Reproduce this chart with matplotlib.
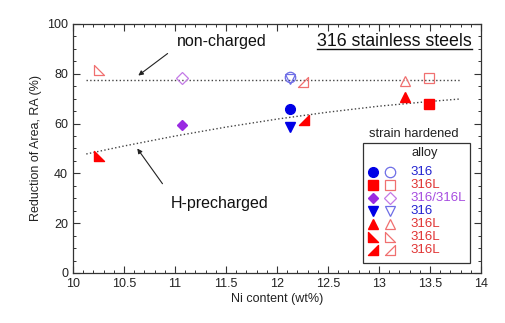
import matplotlib.pyplot as plt
import numpy as np
from matplotlib.path import Path
from matplotlib.patches import Rectangle

plt.rcParams['font.family'] = ['Liberation Sans', 'DejaVu Sans']

# markers: right triangles
tri_bl = Path([(-1, 1), (-1, -1), (1, -1), (-1, 1)], [1, 2, 2, 79])
tri_br = Path([(1, 1), (1, -1), (-1, -1), (1, 1)], [1, 2, 2, 79])

# data
ni_h = [12.13, 13.49, 11.07, 12.13, 13.25, 10.25, 12.26]
ra_h = [66.0, 67.9, 59.4, 58.6, 70.7, 47.0, 61.4]
ni_nc = [12.13, 13.49, 11.07, 12.13, 13.25, 10.25, 12.25]
ra_nc = [78.7, 78.3, 78.3, 78.0, 77.0, 81.5, 76.7]
alloys = ['316', '316L', '316/316L', '316', '316L', '316L', '316L']

# trend lines
nc_x = [10.13, 13.8]
nc_y = [77.7, 77.7]
h_x = [10.13, 10.5, 11.0, 11.5, 12.0, 12.5, 13.0, 13.5, 13.8]
h_y = [47.8, 51.0, 55.0, 58.6, 61.8, 64.6, 67.0, 68.9, 69.9]

markers = ['o', 's', 'D', 'v', '^', tri_bl, tri_br]
sizes = [7, 7, 5.5, 6.5, 6.5, 6.5, 6.5]
fill_col = ['#0000e6', '#ff0000', '#9a2be2', '#0000e6', '#ff0000', '#ff0000', '#ff0000']
open_col = ['#6e6ee6', '#f07070', '#c47ae6', '#6e6ee6', '#f07070', '#f07070', '#f07070']
lab_col = ['#2323d0', '#e03333', '#a64ce0', '#2323d0', '#e03333', '#e03333', '#e03333']

fig = plt.figure(figsize=(5.06, 3.23), dpi=100)
ax = fig.add_axes([0.1443, 0.1548, 0.8063, 0.7709])

ax.plot(nc_x, nc_y, ':', color='#444444', lw=1)
ax.plot(h_x, h_y, ':', color='#444444', lw=1)

for i in range(7):
    ax.plot(ni_nc[i], ra_nc[i], marker=markers[i], ms=sizes[i] + 0.5, mfc='none',
            mec=open_col[i], mew=0.9, ls='none')
    ax.plot(ni_h[i], ra_h[i], marker=markers[i], ms=sizes[i], mfc=fill_col[i],
            mec=fill_col[i], ls='none')

ax.set_xlim(10, 14)
ax.set_ylim(0, 100)
ax.set_xticks(np.arange(10, 14.01, 0.5))
ax.set_xticklabels(['10', '10.5', '11', '11.5', '12', '12.5', '13', '13.5', '14'])
ax.set_yticks(np.arange(0, 101, 20))
ax.set_xticks(np.arange(10, 14.01, 0.1), minor=True)
ax.set_yticks(np.arange(0, 101, 5), minor=True)
ax.tick_params(which='both', direction='in', top=True, right=True, labelsize=9,
               color='#333333', labelcolor='#222222')
ax.tick_params(which='major', length=5, width=0.8)
ax.tick_params(which='minor', length=2.5, width=0.7)
for s in ax.spines.values():
    s.set_color('#333333')
    s.set_linewidth(0.9)
ax.set_xlabel('Ni content (wt%)', fontsize=9, color='#222222', labelpad=2)
ax.set_ylabel('Reduction of Area, RA (%)', fontsize=9, color='#222222', labelpad=4)

ax.annotate('non-charged', xy=(10.64, 79.3), xytext=(11.02, 92.8), fontsize=11.5,
            va='center', ha='left', color='#111111',
            arrowprops=dict(arrowstyle='-|>', color='#222222', lw=0.8,
                            mutation_scale=7, shrinkA=6, shrinkB=0,
                            relpos=(0, 0.2)))
ax.annotate('H-precharged', xy=(10.63, 50.0), xytext=(10.96, 28.1), fontsize=11.5,
            va='center', ha='left', color='#111111',
            arrowprops=dict(arrowstyle='-|>', color='#222222', lw=0.8,
                            mutation_scale=7, shrinkA=8, shrinkB=0,
                            relpos=(0, 1)))
ax.text(0.978, 0.912, '316 stainless steels', transform=ax.transAxes, fontsize=12.8,
        ha='right', va='baseline', color='#111111')
ax.plot([0.598, 0.978], [0.898, 0.898], transform=ax.transAxes, color='#111111', lw=1)

# legend drawn by hand
ax.add_patch(Rectangle((0.711, 0.040), 0.262, 0.482, transform=ax.transAxes,
                       fill=False, ec='#333333', lw=0.9))
ax.text(0.836, 0.558, 'strain hardened', transform=ax.transAxes, fontsize=9.3,
        ha='center', va='center', color='#222222')
ax.text(0.863, 0.482, 'alloy', transform=ax.transAxes, fontsize=9.3,
        ha='center', va='center', color='#222222')
rows = [0.406, 0.353, 0.301, 0.249, 0.197, 0.145, 0.092]
for i in range(7):
    ax.plot(0.735, rows[i], marker=markers[i], ms=sizes[i], mfc=fill_col[i],
            mec=fill_col[i], transform=ax.transAxes, clip_on=False)
    ax.plot(0.777, rows[i], marker=markers[i], ms=sizes[i] + 0.5, mfc='none',
            mec=open_col[i], mew=0.9, transform=ax.transAxes, clip_on=False)
    ax.text(0.826, rows[i], alloys[i], transform=ax.transAxes, fontsize=9.5,
            ha='left', va='center', color=lab_col[i])

fig.savefig('out.png', dpi=100)
